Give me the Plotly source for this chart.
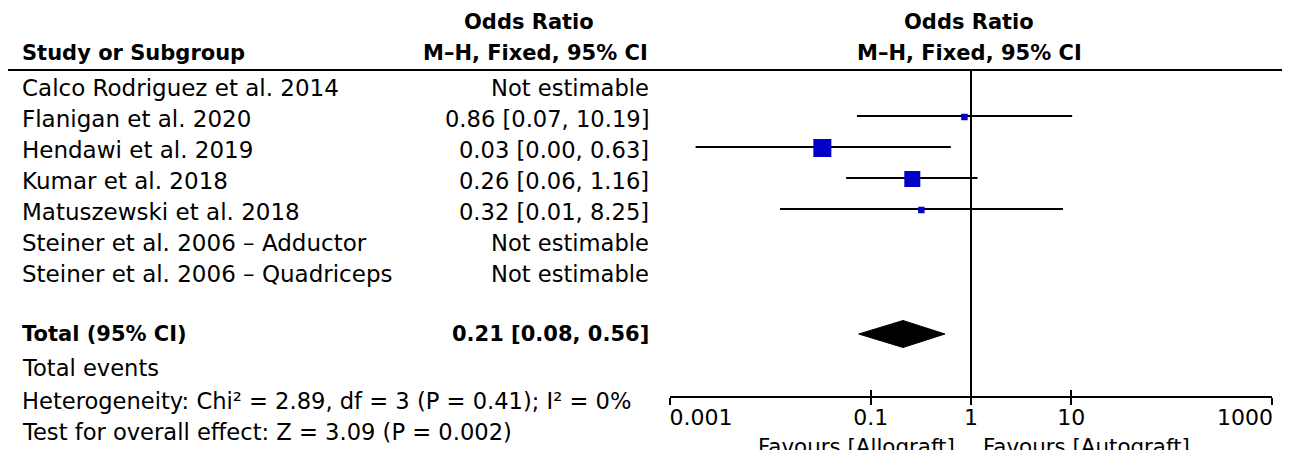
import plotly.graph_objects as go

W, H = 1290, 450
OX, OY = 8, 8  # page body margin offset

# ---------------- data ----------------
studies = [
    "Calco Rodriguez et al. 2014",
    "Flanigan et al. 2020",
    "Hendawi et al. 2019",
    "Kumar et al. 2018",
    "Matuszewski et al. 2018",
    "Steiner et al. 2006 – Adductor",
    "Steiner et al. 2006 – Quadriceps",
]
or_text = [
    "Not estimable",
    "0.86 [0.07, 10.19]",
    "0.03 [0.00, 0.63]",
    "0.26 [0.06, 1.16]",
    "0.32 [0.01, 8.25]",
    "Not estimable",
    "Not estimable",
]
or_est = [None, 0.86, 0.033, 0.26, 0.32, None, None]
ci_low = [None, 0.073, 0.0018, 0.057, 0.0125, None, None]
ci_high = [None, 10.19, 0.63, 1.16, 8.25, None, None]
weights = [None, 6.3, 48.8, 38.6, 6.3, None, None]

total_label = "Total (95% CI)"
total_text = "0.21 [0.08, 0.56]"
total_est, total_low, total_high = 0.21, 0.076, 0.55

footer_lines = [
    "Total events",
    "Heterogeneity: Chi² = 2.89, df = 3 (P = 0.41); I² = 0%",
    "Test for overall effect: Z = 3.09 (P = 0.002)",
]
tick_vals = [0.001, 0.1, 1, 10, 1000]
tick_labels = ["0.001", "0.1", "1", "10", "1000"]
favours_left = "Favours [Allograft]"
favours_right = "Favours [Autograft]"

# ---------------- layout geometry (page pixels) ----------------
FONT = "DejaVu Sans"
FS = 22
row_y = [85 + 31 * i for i in range(len(studies))]
total_y = 334
footer_y = [368, 401, 432]
axis_y = 397
header_line_y = 70
TXT_OFF = 3

def py(y):
    return 1 - (y - OY) / H

def px(x):
    return (x - OX) / W

fig = go.Figure()

# CI lines
xs, ys = [], []
for lo, hi, y in zip(ci_low, ci_high, row_y):
    if lo is None:
        continue
    xs += [lo, hi, None]
    ys += [y, y, None]
fig.add_trace(go.Scatter(x=xs, y=ys, mode="lines",
                         line=dict(color="black", width=2),
                         hoverinfo="skip", showlegend=False))

# squares
wmax = max(w for w in weights if w is not None)
mx, my, ms = [], [], []
for e, w, y in zip(or_est, weights, row_y):
    if e is None:
        continue
    mx.append(e)
    my.append(y + 1)
    ms.append(18 * (w / wmax) ** 0.5)
fig.add_trace(go.Scatter(x=mx, y=my, mode="markers",
                         marker=dict(symbol="square", size=ms, color="#0000C8",
                                     opacity=1, line=dict(width=0)),
                         hoverinfo="skip", showlegend=False))

# diamond
fig.add_trace(go.Scatter(
    x=[total_low, total_est, total_high, total_est, total_low],
    y=[total_y, total_y - 13.5, total_y, total_y + 13.5, total_y],
    mode="lines", fill="toself", fillcolor="black",
    line=dict(color="black", width=1), hoverinfo="skip", showlegend=False))

# line of no effect
fig.add_trace(go.Scatter(x=[1, 1], y=[header_line_y, axis_y], mode="lines",
                         line=dict(color="black", width=2),
                         hoverinfo="skip", showlegend=False))

# invisible traces so the overlay axes render
for ax in ["x2", "x3", "x4"]:
    fig.add_trace(go.Scatter(x=[1], y=[-100], xaxis=ax, mode="markers",
                             marker=dict(opacity=0), hoverinfo="skip",
                             showlegend=False))

ann = []
def text(x, y, s, anchor="left", bold=False, size=FS):
    ann.append(dict(x=px(x), y=py(y), xref="paper", yref="paper",
                    text=f"<b>{s}</b>" if bold else s, showarrow=False,
                    xanchor=anchor, yanchor="middle",
                    font=dict(family=FONT, size=size, color="black")))

BS = 21  # bold size
# headers
text(529, 22, "Odds Ratio", "center", True, BS)
text(535, 53, "M–H, Fixed, 95% CI", "center", True, BS)
text(969, 22, "Odds Ratio", "center", True, BS)
text(969, 53, "M–H, Fixed, 95% CI", "center", True, BS)
text(20, 53, "Study or Subgroup", "left", True, BS)

for s, t, y in zip(studies, or_text, row_y):
    text(20, y + TXT_OFF, s, "left", size=23)
    text(651, y + TXT_OFF, t, "right", size=22.6)

text(20, total_y, total_label, "left", True, BS)
text(651, total_y, total_text, "right", True, BS)
for s, y in zip(footer_lines, footer_y):
    text(20, y, s, "left", size=22.6)

text(957, 446, favours_left, "right", size=21.4)
text(981, 446, favours_right, "left", size=21.4)

common = dict(type="log", range=[-3, 3], domain=[px(670), px(1272)],
              anchor="free", position=py(axis_y), automargin=False,
              showgrid=False, zeroline=False, fixedrange=True)
lab_font = dict(family=FONT, size=FS, color="black")

fig.update_layout(
    width=W, height=H,
    margin=dict(l=0, r=0, t=0, b=0, autoexpand=False),
    paper_bgcolor="white", plot_bgcolor="white",
    showlegend=False, hovermode=False,
    annotations=ann,
    shapes=[dict(type="line", xref="paper", yref="y", x0=px(4), x1=1,
                 y0=header_line_y, y1=header_line_y,
                 line=dict(color="black", width=2))],
    xaxis=dict(**common, showline=True, linecolor="black", linewidth=2,
               ticks="outside", ticklen=7, tickwidth=2, tickcolor="black",
               tickvals=tick_vals[1:-1], ticktext=tick_labels[1:-1],
               ticklabelstandoff=-6, tickfont=lab_font),
    xaxis2=dict(**common, overlaying="x", showline=False, ticks="inside",
                ticklen=7, tickwidth=2, tickcolor="black",
                tickvals=tick_vals, showticklabels=False),
    # end labels sit inside the axis ends
    xaxis3=dict(**common, overlaying="x", showline=False, ticks="outside",
                ticklen=7, tickwidth=2, tickcolor="black",
                tickvals=tick_vals[:1], ticktext=tick_labels[:1],
                ticklabelshift=31, ticklabelstandoff=-6, tickfont=lab_font),
    xaxis4=dict(**common, overlaying="x", showline=False, ticks="outside",
                ticklen=7, tickwidth=2, tickcolor="black",
                tickvals=tick_vals[-1:], ticktext=tick_labels[-1:],
                ticklabelshift=-27, ticklabelstandoff=-6, tickfont=lab_font),
    yaxis=dict(range=[H + OY, OY], domain=[0, 1], visible=False, fixedrange=True,
               automargin=False),
)

fig.write_html("out.html")
